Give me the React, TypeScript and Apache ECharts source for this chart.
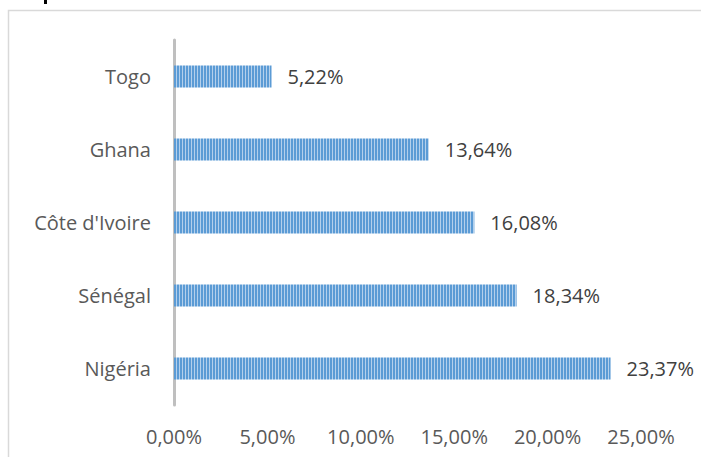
import React, { useEffect, useRef } from "react";
import * as echarts from "echarts";

const categories = ["Togo", "Ghana", "Côte d'Ivoire", "Sénégal", "Nigéria"];
const values = [5.22, 13.64, 16.08, 18.34, 23.37];
const xTicks = [0, 5, 10, 15, 20, 25];

const fmt = (v: number) => v.toFixed(2).replace(".", ",") + "%";

function makePattern(): any {
  const c = document.createElement("canvas");
  c.width = 3;
  c.height = 4;
  const ctx = c.getContext("2d")!;
  ctx.fillStyle = "#5b9bd5";
  ctx.fillRect(0, 0, 3, 4);
  ctx.fillStyle = "#b4d0ec";
  ctx.fillRect(2, 0, 1, 4);
  return c;
}

export default function App() {
  const ref = useRef<HTMLDivElement>(null);
  useEffect(() => {
    const chart = echarts.init(ref.current!, undefined, { renderer: "svg" });
    const font = "'Open Sans', sans-serif";
    chart.setOption({
      animation: false,
      backgroundColor: "#ffffff",
      grid: { left: 174, right: 60, top: 40, bottom: 52, containLabel: false },
      xAxis: {
        type: "value",
        min: xTicks[0],
        max: xTicks[xTicks.length - 1],
        interval: 5,
        axisLine: { show: false },
        axisTick: { show: false },
        splitLine: { show: false },
        axisLabel: {
          formatter: (v: number) => fmt(v),
          color: "#595959",
          fontSize: 20,
          fontFamily: font,
          margin: 21,
        },
      },
      yAxis: {
        type: "category",
        data: categories,
        inverse: true,
        axisLine: { show: true, lineStyle: { color: "#bfbfbf", width: 3 } },
        axisTick: { show: false },
        axisLabel: {
          color: "#595959",
          fontSize: 20,
          fontFamily: font,
          margin: 23,
        },
      },
      series: [
        {
          type: "bar",
          data: values,
          barWidth: 22,
          itemStyle: {
            color: { image: makePattern(), repeat: "repeat" },
          },
          label: {
            show: true,
            position: "right",
            distance: 16,
            formatter: (p: any) => fmt(p.value),
            color: "#404040",
            fontSize: 20,
            fontFamily: font,
          },
        },
      ],
      graphic: [
        {
          type: "rect",
          shape: { x: 8.5, y: 10.5, width: 800, height: 600 },
          style: { fill: "none", stroke: "#d9d9d9", lineWidth: 1.5 },
          silent: true,
        },
        {
          type: "rect",
          shape: { x: 44, y: 0, width: 3, height: 4 },
          style: { fill: "#000000" },
          silent: true,
        },
      ],
    });
    return () => chart.dispose();
  }, []);
  return (
    <div
      ref={ref}
      style={{ position: "fixed", left: 0, top: 0, width: 701, height: 457 }}
    />
  );
}
